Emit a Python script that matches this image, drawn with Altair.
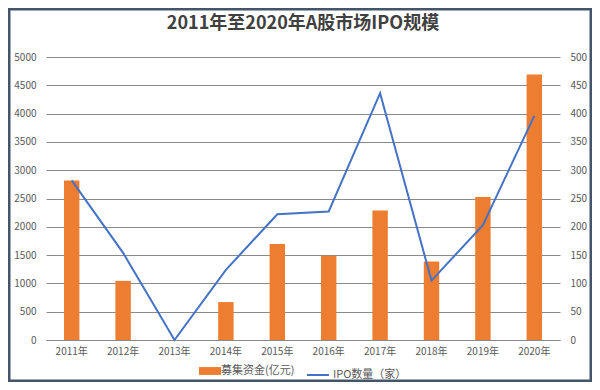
import altair as alt
import pandas as pd

years = ["2011年", "2012年", "2013年", "2014年", "2015年", "2016年", "2017年", "2018年", "2019年", "2020年"]
funds = [2820, 1045, 0, 670, 1695, 1490, 2290, 1385, 2527, 4690]
ipo_count = [282, 154, 0, 124, 222, 227, 436, 105, 203, 396]
title_text = "2011年至2020年A股市场IPO规模"

df = pd.DataFrame({"year": years, "funds": funds, "ipo": ipo_count,
                   "s1": "募集资金(亿元)", "s2": "IPO数量（家）"})

FONT = "Noto Sans CJK SC"
LABEL = "#595959"
GRID = "#8a8a8a"

x = alt.X("year:N", sort=years, title=None,
          scale=alt.Scale(paddingInner=0.7, paddingOuter=0.35),
          axis=alt.Axis(labelAngle=0, labelFontSize=10, labelColor=LABEL, labelFont=FONT,
                        ticks=False, domainColor=GRID, labelPadding=6))

bars = alt.Chart(df).mark_bar(color="#ED7D31").encode(
    x=x,
    y=alt.Y("funds:Q", title=None,
            scale=alt.Scale(domain=[0, 5000], nice=False),
            axis=alt.Axis(values=list(range(0, 5001, 500)), format="d", grid=True, gridColor=GRID,
                          domain=False, ticks=False, labelFontSize=10, labelColor=LABEL,
                          labelFont=FONT, labelPadding=10)),
    color=alt.Color("s1:N", title=None,
                    scale=alt.Scale(domain=["募集资金(亿元)"], range=["#ED7D31"]),
                    legend=alt.Legend(orient="none", legendX=156, legendY=306, padding=0,
                                      symbolType="M-1.4,-0.5H1.4V0.5H-1.4Z", symbolSize=247,
                                      symbolStrokeWidth=0, labelFontSize=11, labelFont=FONT,
                                      labelColor=LABEL, symbolOpacity=1, labelOffset=3)),
)

line = alt.Chart(df).mark_line(color="#4472C4", strokeWidth=2).encode(
    x=x,
    y=alt.Y("ipo:Q", title=None,
            scale=alt.Scale(domain=[0, 500], nice=False),
            axis=alt.Axis(orient="right", values=list(range(0, 501, 50)), format="d", grid=False,
                          domain=False, ticks=False, labelFontSize=10, labelColor=LABEL,
                          labelFont=FONT, labelPadding=10)),
    stroke=alt.Stroke("s2:N", title=None,
                      scale=alt.Scale(domain=["IPO数量（家）"], range=["#4472C4"]),
                      legend=alt.Legend(orient="none", legendX=260, legendY=306, padding=0,
                                        symbolType="stroke", symbolSize=484,
                                        symbolStrokeWidth=2, labelFontSize=11, labelFont=FONT,
                                        labelColor=LABEL, labelOffset=3)),
)

one = alt.Data(values=[{"t": title_text}])

border = alt.Chart(one).mark_rect(
    fill=None, stroke="#44546A", strokeWidth=3
).encode(
    x=alt.value(-37), y=alt.value(-48), x2=alt.value(545), y2=alt.value(324)
)

title = alt.Chart(one).mark_text(
    font=FONT, fontSize=18, fontWeight="bold", color="#404040", align="center", baseline="middle"
).encode(
    x=alt.value(257), y=alt.value(-33), text="t:N"
)

chart = alt.layer(bars, line, border, title).resolve_scale(
    y="independent", color="independent", stroke="independent"
).properties(
    width=514, height=283,
    autosize=alt.AutoSizeParams(type="none"),
    padding={"left": 38, "top": 49, "right": 32, "bottom": 42},
    background="white",
).configure_view(stroke=None)

chart.save("out.html", embed_options={"renderer": "svg", "actions": False})
